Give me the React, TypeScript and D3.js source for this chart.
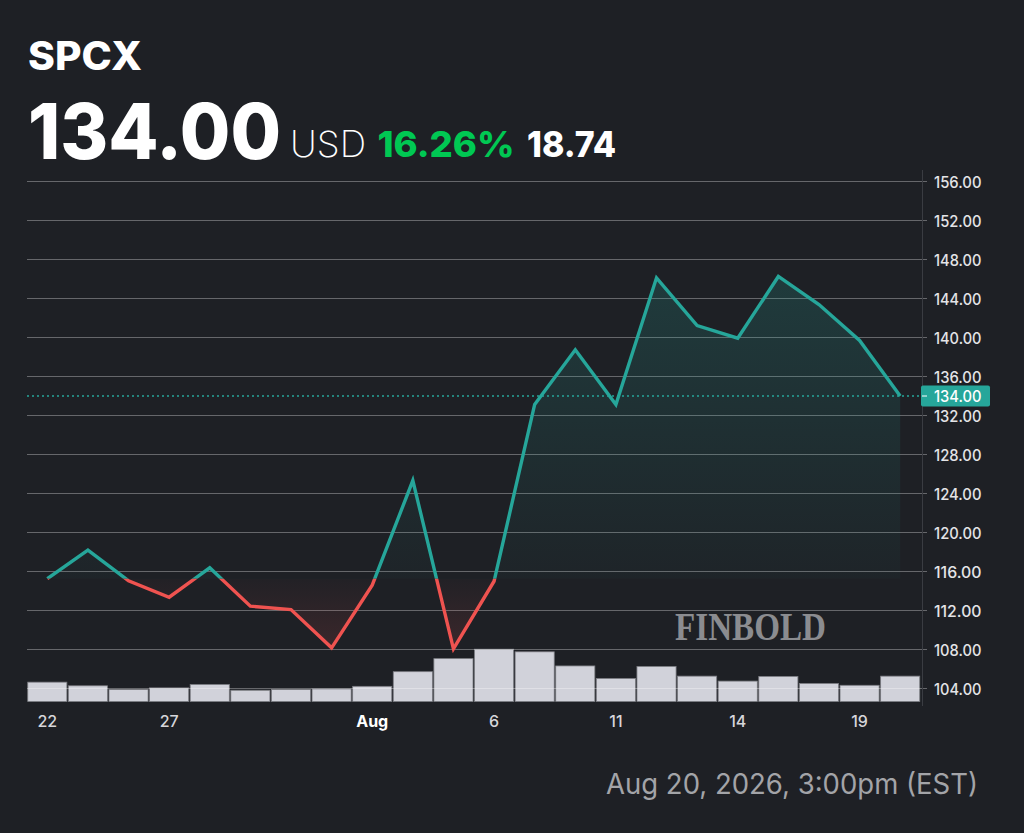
import React from "react";
import * as d3 from "d3";

const ticker = "SPCX";
const currency = "USD";
const timestamp = "Aug 20, 2026, 3:00pm (EST)";
const dates = ["Jul 22","Jul 23","Jul 24","Jul 27","Jul 28","Jul 29","Jul 30","Jul 31","Aug 3","Aug 4","Aug 5","Aug 6","Aug 7","Aug 10","Aug 11","Aug 12","Aug 13","Aug 14","Aug 17","Aug 18","Aug 19","Aug 20"];
const prices = [115.26,118.2,115.05,113.36,116.38,112.44,112.1,108.17,114.6,125.33,108.07,115.0,133.13,138.74,133.13,146.12,141.23,139.93,146.26,143.38,139.69,134.0];
const volumes = [3.7,3.0,2.3,2.6,3.25,2.15,2.3,2.4,2.9,5.7,8.2,10.0,9.5,6.8,4.4,6.7,4.85,3.9,4.8,3.45,3.1,4.85];
const priceTicks = [104,108,112,116,120,124,128,132,136,140,144,148,152,156];
const dateTickIdx = [0,3,8,11,14,17,20];
const dateTickLabels = ["22","27","Aug","6","11","14","19"];

const BG = "#1e2025";
const TEAL = "#26a69a";
const RED = "#ef5350";
const FONT = "Inter, 'Noto Sans', sans-serif";

export default function App() {
  const W = 1024, H = 833;
  const left = 27, plotRight = 922, barRight = 920.5;
  const x = d3.scaleBand<number>().domain(d3.range(prices.length)).range([left, barRight]).padding(0);
  const cx = (i: number) => (x(i) as number) + x.bandwidth() / 2;
  const y = d3.scaleLinear().domain([104, 156]).range([688.5, 181.5]);
  const volBottom = 701.5;
  const vh = d3.scaleLinear().domain([0, 10]).range([0, 52.3]);

  const base = prices[0];
  const last = prices[prices.length - 1];
  const change = last - base;
  const pct = (change / base) * 100;
  const yb = y(base);

  const line = d3.line<number>().x((_, i) => cx(i)).y((d) => y(d));
  const area = d3.area<number>().x((_, i) => cx(i)).y0(yb).y1((d) => y(d));
  const linePath = line(prices) || "";
  const areaPath = area(prices) || "";
  const yMin = y(d3.max(prices) as number);
  const yMax = y(d3.min(prices) as number);

  return (
    <div style={{ position: "absolute", left: 0, top: 0, width: W, height: H, background: BG }}>
      <svg width={W} height={H} style={{ display: "block" }}>
        <defs>
          <clipPath id="above"><rect x={0} y={0} width={W} height={yb} /></clipPath>
          <clipPath id="below"><rect x={0} y={yb} width={W} height={H - yb} /></clipPath>
          <linearGradient id="gUp" gradientUnits="userSpaceOnUse" x1={0} y1={yMin} x2={0} y2={yb}>
            <stop offset="0" stopColor={TEAL} stopOpacity={0.2} />
            <stop offset="1" stopColor={TEAL} stopOpacity={0.03} />
          </linearGradient>
          <linearGradient id="gDown" gradientUnits="userSpaceOnUse" x1={0} y1={yb} x2={0} y2={yMax}>
            <stop offset="0" stopColor={RED} stopOpacity={0.02} />
            <stop offset="1" stopColor={RED} stopOpacity={0.14} />
          </linearGradient>
        </defs>
        <rect x={0} y={0} width={W} height={H} fill={BG} />

        {/* header */}
        <text x={28} y={70} fill="#ffffff" fontFamily={FONT} fontWeight={800} fontSize={39} textLength={114} lengthAdjust="spacingAndGlyphs">{ticker}</text>
        <text x={28} y={159} fill="#ffffff" fontFamily={FONT} fontWeight={800} fontSize={77} textLength={253} lengthAdjust="spacingAndGlyphs">{last.toFixed(2)}</text>
        <text x={290} y={157} fill="#ffffff" fontFamily={FONT} fontWeight={200} fontSize={36} textLength={76} lengthAdjust="spacingAndGlyphs">{currency}</text>
        <text x={377.5} y={157} fill="#00c853" fontFamily={FONT} fontWeight={800} fontSize={36} textLength={137} lengthAdjust="spacingAndGlyphs">{pct.toFixed(2) + "%"}</text>
        <text x={527} y={157} fill="#ffffff" fontFamily={FONT} fontWeight={800} fontSize={36} textLength={89} lengthAdjust="spacingAndGlyphs">{change.toFixed(2)}</text>

        {/* volume bars */}
        {volumes.map((v, i) => (
          <rect key={"v" + i} x={(x(i) as number) + 0.75} y={volBottom - vh(v)} width={x.bandwidth() - 1.5} height={vh(v)}
            fill="#d1d2da" stroke="#7c7d83" strokeWidth={0.8} />
        ))}

        {/* grid */}
        {priceTicks.map((t) => (
          <g key={"g" + t}>
            <line x1={left} x2={plotRight} y1={y(t)} y2={y(t)} stroke="#ffffff" strokeOpacity={0.32} strokeWidth={1} />
            <line x1={plotRight} x2={927} y1={y(t)} y2={y(t)} stroke="#ffffff" strokeOpacity={0.32} strokeWidth={1} />
            <text x={934} y={y(t) + 0.5} dominantBaseline="central" fill="#e4e4e7" fontFamily={FONT} fontWeight={500} fontSize={15.5} textLength={47.5} lengthAdjust="spacingAndGlyphs">{t.toFixed(2)}</text>
          </g>
        ))}
        <line x1={plotRight + 0.5} x2={plotRight + 0.5} y1={170} y2={706} stroke="#3a3c42" strokeWidth={1} />

        {/* watermark */}
        <text x={675} y={640} fill="#8b8c90" fontFamily="'Liberation Serif', serif" fontWeight={700} fontSize={41} textLength={151} lengthAdjust="spacingAndGlyphs">FINBOLD</text>

        {/* areas */}
        <path d={areaPath} fill="url(#gUp)" clipPath="url(#above)" />
        <path d={areaPath} fill="url(#gDown)" clipPath="url(#below)" />

        {/* current price dotted line */}
        <line x1={left} x2={plotRight} y1={y(last)} y2={y(last)} stroke={TEAL} strokeWidth={1.3} strokeDasharray="2 3" />

        {/* price line */}
        <path d={linePath} fill="none" stroke={TEAL} strokeWidth={3.4} strokeLinejoin="miter" strokeMiterlimit={6} clipPath="url(#above)" />
        <path d={linePath} fill="none" stroke={RED} strokeWidth={3.4} strokeLinejoin="miter" strokeMiterlimit={6} clipPath="url(#below)" />

        {/* current price label */}
        <rect x={921} y={y(last) - 10.5} width={69} height={21} rx={2} fill={TEAL} />
        <line x1={plotRight} x2={927} y1={y(last)} y2={y(last)} stroke="#ffffff" strokeWidth={1} />
        <text x={934} y={y(last) + 0.5} dominantBaseline="central" fill="#ffffff" fontFamily={FONT} fontWeight={500} fontSize={15.5} textLength={47.5} lengthAdjust="spacingAndGlyphs">{last.toFixed(2)}</text>

        {/* x axis labels */}
        {dateTickIdx.map((idx, k) => (
          <text key={"d" + k} x={cx(idx)} y={726.5} textAnchor="middle"
            fill={dateTickLabels[k] === "Aug" ? "#ffffff" : "#d6d6da"}
            fontWeight={dateTickLabels[k] === "Aug" ? 700 : 500}
            fontFamily={FONT} fontSize={16}>{dateTickLabels[k]}</text>
        ))}

        {/* timestamp */}
        <text x={978} y={794} textAnchor="end" fill="#a3a4a8" fontFamily={FONT} fontWeight={400} fontSize={28} textLength={372} lengthAdjust="spacingAndGlyphs">{timestamp}</text>
        <title>{dates.join(", ")}</title>
      </svg>
    </div>
  );
}
